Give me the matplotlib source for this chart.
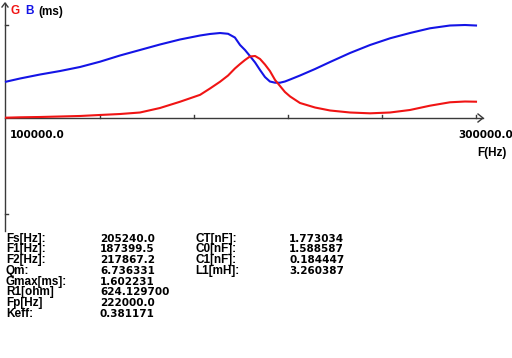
"""
Curvas de admitância G/B (ms) em função da frequência, com a tabela de
parâmetros do ressonador piezoelétrico embaixo.
"""

import matplotlib
matplotlib.use("Agg")
import matplotlib.pyplot as plt

# --- dados ------------------------------------------------------------------
freq_hz = [100000, 106000, 114500, 123000, 131500, 140000, 148500, 157000,
           165500, 174000, 182600, 186800, 191100, 194500, 197400, 199600,
           201700, 203800, 206000, 208100, 210200, 212300, 214500, 216600,
           218700, 220900, 225100, 231500, 237900, 246400, 254900, 263400,
           271900, 280400, 288900, 295300, 300000]

g_ms = [0.008, 0.018, 0.026, 0.039, 0.052, 0.078, 0.103, 0.142,
        0.258, 0.419, 0.599, 0.762, 0.938, 1.098, 1.279, 1.395,
        1.499, 1.589, 1.602, 1.525, 1.382, 1.214, 0.982, 0.827,
        0.672, 0.556, 0.388, 0.271, 0.194, 0.142, 0.121, 0.142,
        0.207, 0.318, 0.406, 0.426, 0.421]

b_ms = [0.938, 1.021, 1.124, 1.214, 1.318, 1.455, 1.615, 1.757,
        1.899, 2.028, 2.132, 2.171, 2.196, 2.176, 2.080, 1.886,
        1.757, 1.602, 1.434, 1.240, 1.059, 0.943, 0.912, 0.912,
        0.943, 0.995, 1.098, 1.266, 1.447, 1.680, 1.886, 2.059,
        2.196, 2.318, 2.390, 2.403, 2.390]

x_ticks = [140000, 180000, 220000, 260000, 300000]
y_ticks = [2.40, -2.48]

params_left = ["Fs[Hz]:", "F1[Hz]:", "F2[Hz]:", "Qm:", "Gmax[ms]:",
               "R1[ohm]", "Fp[Hz]", "Keff:"]
values_left = ["205240.0", "187399.5", "217867.2", "6.736331", "1.602231",
               "624.129700", "222000.0", "0.381171"]
params_right = ["CT[nF]:", "C0[nF]:", "C1[nF]:", "L1[mH]:"]
values_right = ["1.773034", "1.588587", "0.184447", "3.260387"]

# --- geometria (pixels da imagem original) ----------------------------------
W, H = 512, 358
X0_PX, X1_PX = 6, 476          # posições de 100000 e 300000 Hz
F_MIN, F_MAX = 100000, 300000
Y0_PX = 118                    # linha do zero
PX_PER_MS = 38.7


def fx(px):
    return F_MIN + (px - X0_PX) * (F_MAX - F_MIN) / (X1_PX - X0_PX)


def fy(py):
    return (Y0_PX - py) / PX_PER_MS


def put(px, py, s, **kw):
    fig.text(px / W, 1 - py / H, s, va="baseline", **kw)


AXIS = "#3a3a3a"
RED = "#f01414"
BLUE = "#1414e6"
LBL = dict(family="Liberation Sans", weight="bold", size=8.5, color="black")
NUM = dict(family="DejaVu Sans", weight="bold", size=7.5, color="black")

fig = plt.figure(figsize=(W / 100, H / 100), dpi=100)
ax = fig.add_axes([0, 0, 1, 1])
ax.axis("off")
ax.set_xlim(fx(0), fx(W))
ax.set_ylim(fy(H), fy(0))

# eixos com setas
ax.plot([fx(5), fx(483)], [0, 0], color=AXIS, lw=1)
ax.plot([fx(478), fx(483), fx(478)], [fy(114), 0, fy(122)], color=AXIS, lw=1)
ax.plot([fx(5), fx(5)], [fy(231), fy(3)], color=AXIS, lw=1)
ax.plot([fx(2), fx(5), fx(8)], [fy(7), fy(3), fy(7)], color=AXIS, lw=1)

for t in x_ticks:
    ax.plot([t, t], [0, fy(115)], color=AXIS, lw=1)
for t in y_ticks:
    ax.plot([fx(5), fx(8)], [t, t], color=AXIS, lw=1)

# curvas
ax.plot(freq_hz, b_ms, color=BLUE, lw=1.5)
ax.plot(freq_hz, g_ms, color=RED, lw=1.5)

# rótulos
put(10.5, 14.5, "G", **{**LBL, "color": RED})
put(25, 14.5, "B", **{**LBL, "color": BLUE})
put(38, 14.5, "(ms)", **LBL)
put(10, 137.5, "100000.0", **NUM)
put(458, 137.5, "300000.0", **NUM)
put(477, 155.5, "F(Hz)", **LBL)

# tabela de parâmetros
ROW0, STEP = 241.7, 10.71
for i, (p, v) in enumerate(zip(params_left, values_left)):
    put(6, ROW0 + i * STEP, p, **LBL)
    put(100, ROW0 + i * STEP, v, **NUM)
for i, (p, v) in enumerate(zip(params_right, values_right)):
    put(195, ROW0 + i * STEP, p, **LBL)
    put(289, ROW0 + i * STEP, v, **NUM)

fig.savefig("out.png", dpi=100)
